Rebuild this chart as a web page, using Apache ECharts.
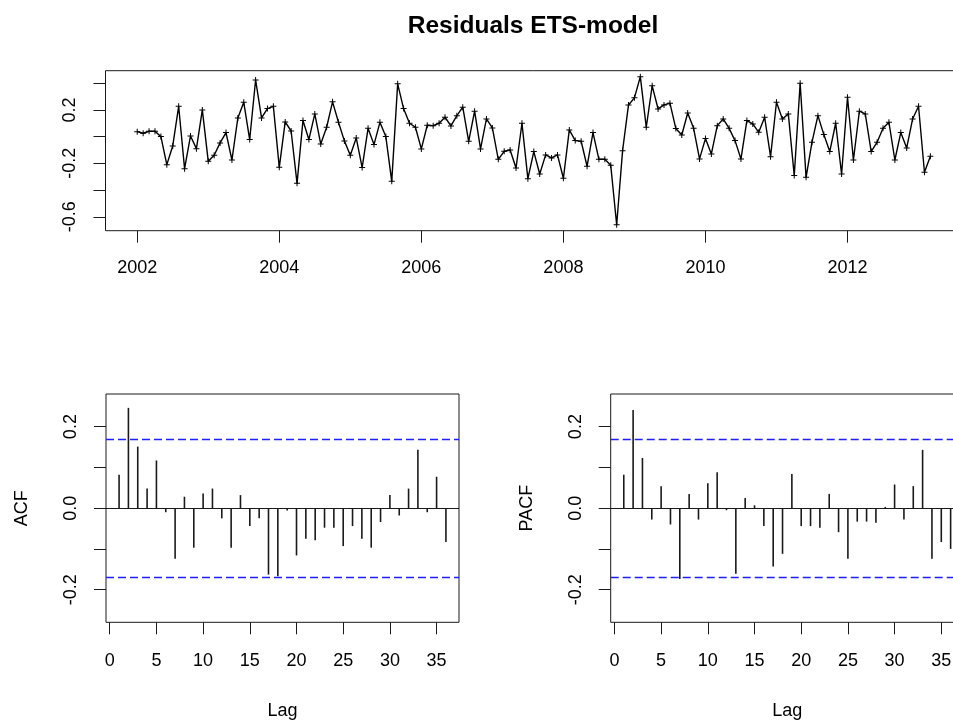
<!DOCTYPE html>
<html>
<head>
<meta charset="utf-8">
<title>Residuals ETS-model</title>
<script src="https://cdn.jsdelivr.net/npm/echarts@6/dist/echarts.min.js"></script>
<style>
  html, body { margin: 0; padding: 0; background: #fff; overflow: hidden; }
  #chart { width: 990px; height: 722px; }
</style>
</head>
<body>
<div id="chart"></div>
<script>
// Monthly residuals of the ETS model, starting January 2002
const startYear = 2002;
const frequency = 12;
const residuals = [
  0.037, 0.025, 0.040, 0.040, 0.000, -0.210, -0.070, 0.227, -0.240, 0.005, -0.090, 0.200,
  -0.185, -0.140, -0.047, 0.030, -0.175, 0.140, 0.257, -0.022, 0.424, 0.140, 0.210, 0.227,
  -0.230, 0.110, 0.042, -0.350, 0.120, -0.022, 0.170, -0.055, 0.070, 0.260, 0.107, -0.032,
  -0.140, -0.010, -0.232, 0.062, -0.060, 0.107, 0.000, -0.335, 0.395, 0.210, 0.100, 0.070,
  -0.092, 0.085, 0.082, 0.100, 0.145, 0.080, 0.157, 0.220, -0.035, 0.190, -0.092, 0.132,
  0.065, -0.170, -0.110, -0.100, -0.235, 0.100, -0.315, -0.112, -0.280, -0.137, -0.160, -0.137,
  -0.312, 0.050, -0.030, -0.035, -0.222, 0.030, -0.170, -0.170, -0.215, -0.660, -0.105, 0.237,
  0.290, 0.449, 0.070, 0.380, 0.207, 0.237, 0.250, 0.060, 0.012, 0.177, 0.062, -0.167,
  -0.015, -0.130, 0.082, 0.132, 0.062, -0.030, -0.167, 0.120, 0.095, 0.032, 0.145, -0.150,
  0.257, 0.132, 0.170, -0.292, 0.400, -0.305, -0.042, 0.157, 0.015, -0.112, 0.100, -0.280,
  0.295, -0.175, 0.190, 0.170, -0.112, -0.042, 0.062, 0.107, -0.175, 0.030, -0.085, 0.132,
  0.227, -0.267, -0.147
];

// Autocorrelations for lags 1..36
const acfValues = [
  0.082, 0.246, 0.151, 0.048, 0.117, -0.010, -0.124, 0.028, -0.097, 0.036, 0.048, -0.025,
  -0.097, 0.032, -0.044, -0.025, -0.163, -0.167, -0.006, -0.116, -0.075, -0.079, -0.048, -0.048,
  -0.093, -0.044, -0.075, -0.097, -0.034, 0.032, -0.018, 0.048, 0.143, -0.010, 0.077, -0.083
];

// Partial autocorrelations for lags 1..36
const pacfValues = [
  0.082, 0.241, 0.123, -0.028, 0.054, -0.040, -0.174, 0.035, -0.028, 0.061, 0.088, -0.005,
  -0.161, 0.025, 0.007, -0.044, -0.143, -0.112, 0.084, -0.044, -0.044, -0.048, 0.035, -0.059,
  -0.124, -0.033, -0.033, -0.036, 0.003, 0.058, -0.028, 0.054, 0.143, -0.124, -0.083, -0.100
];

// Tick positions and labels
const yearTicks = [2002, 2004, 2006, 2008, 2010, 2012];
const residTicks = [-0.6, -0.4, -0.2, 0, 0.2, 0.4];
const residLabels = [-0.6, -0.2, 0.2];
const lagTicks = [0, 5, 10, 15, 20, 25, 30, 35];
const corrTicks = [-0.2, -0.1, 0, 0.1, 0.2];
const corrLabels = [-0.2, 0, 0.2];

// 95% significance bound for white noise
const ciBound = 1.96 / Math.sqrt(residuals.length);

const FONT = "'Liberation Sans', Arial, sans-serif";
const INK = '#1a1a1a';

const residSeries = residuals.map((v, i) => [startYear + i / frequency, v]);
const acfSeries = acfValues.map((v, i) => [i + 1, v]);
const pacfSeries = pacfValues.map((v, i) => [i + 1, v]);

const nT = residuals.length;
const tFirst = startYear, tLast = startYear + (nT - 1) / frequency;
const tPad = (tLast - tFirst) * 0.04;
const rMin = Math.min(...residuals), rMax = Math.max(...residuals);
const rPad = (rMax - rMin) * 0.04;

const fmt = v => v.toFixed(1);

function valueXAxis(gridIndex, min, max, ticks, margin, name) {
  return {
    type: 'value', gridIndex, min, max,
    axisLine: { show: false, onZero: false },
    splitLine: { show: false },
    axisTick: { show: true, inside: false, length: 12, customValues: ticks,
      lineStyle: { color: INK, width: 1 } },
    axisLabel: { show: true, customValues: ticks, margin, color: '#000',
      fontFamily: FONT, fontSize: 18, formatter: v => String(v) },
    name: name || '', nameLocation: 'middle', nameGap: 80,
    nameTextStyle: { color: '#000', fontFamily: FONT, fontSize: 18 }
  };
}

function valueYAxis(gridIndex, min, max, ticks, labels, name) {
  return {
    type: 'value', gridIndex, min, max,
    axisLine: { show: false, onZero: false },
    splitLine: { show: false },
    axisTick: { show: true, inside: false, length: 12, customValues: ticks,
      lineStyle: { color: INK, width: 1 } },
    axisLabel: { show: true, customValues: labels, rotate: 90, margin: 26, color: '#000',
      fontFamily: FONT, fontSize: 18, formatter: fmt },
    name: name || '', nameLocation: 'middle', nameGap: 75, nameRotate: 90,
    nameTextStyle: { color: '#000', fontFamily: FONT, fontSize: 18 }
  };
}

function corrBars(idx, data) {
  return {
    type: 'bar', xAxisIndex: idx, yAxisIndex: idx,
    data, barWidth: 1.6,
    itemStyle: { color: INK },
    silent: true,
    markLine: {
      silent: true, symbol: 'none', label: { show: false },
      data: [
        { yAxis: 0, lineStyle: { color: INK, width: 1, type: 'solid' } },
        { yAxis: ciBound, lineStyle: { color: '#1f1fff', width: 1.4, type: [8, 4] } },
        { yAxis: -ciBound, lineStyle: { color: '#1f1fff', width: 1.4, type: [8, 4] } }
      ]
    }
  };
}

const gridBox = { show: true, borderColor: INK, borderWidth: 1, backgroundColor: '#fff',
  outerBoundsMode: 'none', containLabel: false };

const option = {
  animation: false,
  backgroundColor: '#fff',
  title: {
    text: 'Residuals ETS-model',
    left: 528, top: 9, textAlign: 'center',
    textStyle: { fontFamily: FONT, fontSize: 24.5, fontWeight: 'bold', color: '#000' }
  },
  grid: [
    Object.assign({ left: 105.5, top: 70.7, width: 856.6, height: 160 }, gridBox),
    Object.assign({ left: 106, top: 394, width: 353, height: 228.3 }, gridBox),
    Object.assign({ left: 610.7, top: 394, width: 353, height: 228.3 }, gridBox)
  ],
  xAxis: [
    valueXAxis(0, tFirst - tPad, tLast + tPad, yearTicks, 28),
    valueXAxis(1, -0.4, 37.4, lagTicks, 30, 'Lag'),
    valueXAxis(2, -0.4, 37.4, lagTicks, 30, 'Lag')
  ],
  yAxis: [
    valueYAxis(0, rMin - rPad, rMax + rPad, residTicks, residLabels),
    valueYAxis(1, -0.28, 0.28, corrTicks, corrLabels, 'ACF'),
    valueYAxis(2, -0.28, 0.28, corrTicks, corrLabels, 'PACF')
  ],
  series: [
    {
      type: 'line', xAxisIndex: 0, yAxisIndex: 0,
      data: residSeries,
      lineStyle: { color: '#000', width: 1.4 },
      symbol: 'path://M-0.5,-3H0.5V-0.5H3V0.5H0.5V3H-0.5V0.5H-3V-0.5H-0.5Z',
      symbolSize: 6, symbolKeepAspect: true,
      showSymbol: true, showAllSymbol: true,
      itemStyle: { color: '#000' },
      silent: true
    },
    corrBars(1, acfSeries),
    corrBars(2, pacfSeries)
  ]
};

const chart = echarts.init(document.getElementById('chart'), null, { renderer: 'canvas' });
chart.setOption(option);
</script>
</body>
</html>
